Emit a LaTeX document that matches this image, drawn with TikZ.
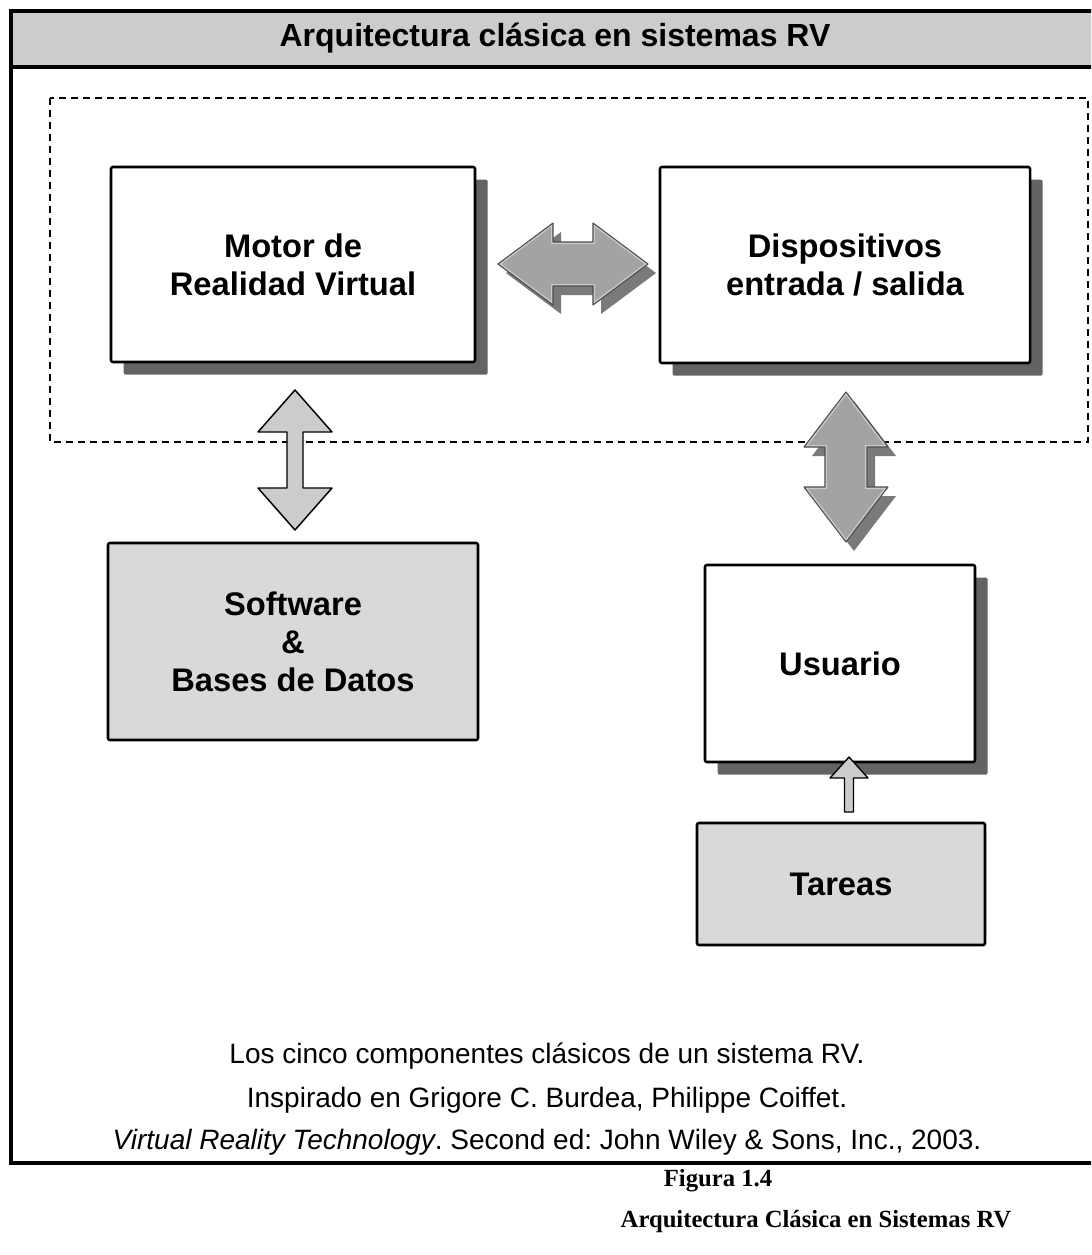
\documentclass[tikz,border=0pt]{standalone}
\usepackage{fontspec}
\setmainfont{Liberation Sans}
\newfontfamily\capfont{Liberation Serif}
\usetikzlibrary{shadows}
\definecolor{band}{HTML}{CCCCCC}
\definecolor{boxgray}{HTML}{D9D9D9}
\definecolor{lightarr}{HTML}{CCCCCC}
\definecolor{darkarr}{HTML}{A3A3A3}
\definecolor{bevel}{HTML}{C9C9C9}
\definecolor{shad}{HTML}{636363}
\newcommand\setVpath[6]{\def\arrpath{(#1,#2) -- ({#1+#4},{#2+#6}) -- ({#1+#5},{#2+#6}) -- ({#1+#5},{#3-#6}) -- ({#1+#4},{#3-#6}) -- (#1,#3) -- ({#1-#4},{#3-#6}) -- ({#1-#5},{#3-#6}) -- ({#1-#5},{#2+#6}) -- ({#1-#4},{#2+#6}) -- cycle}}
\newcommand\setHpath[6]{\def\arrpath{(#2,#1) -- ({#2+#6},{#1-#4}) -- ({#2+#6},{#1-#5}) -- ({#3-#6},{#1-#5}) -- ({#3-#6},{#1-#4}) -- (#3,#1) -- ({#3-#6},{#1+#4}) -- ({#3-#6},{#1+#5}) -- ({#2+#6},{#1+#5}) -- ({#2+#6},{#1+#4}) -- cycle}}
\newcommand\bevelarrow{%
  \fill[shad!85, shift={(8,9)}] \arrpath;
  \begin{scope}
    \clip \arrpath;
    \fill[darkarr] \arrpath;
    \draw[line width=3pt, bevel] \arrpath;
  \end{scope}
  \draw[line width=0.8pt, black!70, line join=round] \arrpath;}
\newcommand\lightarrow{%
  \filldraw[fill=lightarr, draw=black, line width=1.1pt, line join=round] \arrpath;}
\begin{document}
\frenchspacing
\begin{tikzpicture}[x=0.75pt,y=-0.75pt,
  boxtext/.style={font=\bfseries\fontsize{24.5}{28.5}\selectfont, align=center},
  blockbox/.style={draw=black, line width=1.9pt, rounded corners=1.5pt, inner sep=0pt, outer sep=0pt, fill=white, boxtext},
  shadowed/.style={drop shadow={shadow xshift=9.5pt, shadow yshift=-9.5pt, fill=shad, opacity=1}},
  graybox/.style={blockbox, fill=boxgray},
  captxt/.style={font=\fontsize{21}{24}\selectfont, inner sep=0pt},
  figtxt/.style={font=\capfont\bfseries\fontsize{18.5}{20}\selectfont, inner sep=0pt}
]
\useasboundingbox (0,0) rectangle (1091,1255);
\clip (0,0) rectangle (1091,1255);
\fill[white] (0,0) rectangle (1091,1255);

% outer frame and title band
\fill[band] (11,11) rectangle (1100,67);
\draw[line width=2.6pt] (11,11) rectangle (1100,1163);
\draw[line width=2.6pt] (11,67) -- (1100,67);
\node[font=\bfseries\fontsize{24}{28}\selectfont, inner sep=0pt] (title) at (555,38) {Arquitectura clásica en sistemas RV};

% dashed region
\draw[line width=1.1pt, dash pattern=on 5.25pt off 3.75pt] (50,98) rectangle (1088,442);

% boxes
\node[blockbox, shadowed, minimum width=273pt, minimum height=146.25pt] (motor) at (293,264.5) {Motor de\\Realidad Virtual};
\node[blockbox, shadowed, minimum width=277.5pt, minimum height=147pt] (disp) at (845,265) {Dispositivos\\entrada / salida};
\node[graybox, minimum width=277.5pt, minimum height=147.75pt] (soft) at (293,641.5) {Software\\\&\\Bases de Datos};
\node[blockbox, shadowed, minimum width=202.5pt, minimum height=147.75pt] (user) at (840,663.5) {Usuario};
\node[graybox, minimum width=216pt, minimum height=91.5pt] (tareas) at (841,884) {Tareas};

% block arrows
\setHpath{264}{498}{648}{41}{22}{55}\bevelarrow
\setVpath{846}{392}{542}{42}{21}{55}\bevelarrow
\setVpath{295}{390}{530}{37}{8}{42}\lightarrow
\filldraw[fill=lightarr, draw=black, line width=1pt, line join=round]
  (849,757) -- (868,778) -- (853.5,778) -- (853.5,812) -- (844.5,812) -- (844.5,778) -- (830,778) -- cycle;

% captions
\node[captxt] (c1) at (547,1056) {Los cinco componentes clásicos de un sistema RV.};
\node[captxt] (c2) at (547,1100) {Inspirado en Grigore C. Burdea, Philippe Coiffet.};
\node[captxt] (c3) at (547,1142) {\textit{Virtual Reality Technology}. Second ed: John Wiley \& Sons, Inc., 2003.};

\node[figtxt] (fig) at (718,1181) {Figura 1.4};
\node[figtxt] (figt) at (816,1222) {Arquitectura Clásica en Sistemas RV};
\end{tikzpicture}
\end{document}
